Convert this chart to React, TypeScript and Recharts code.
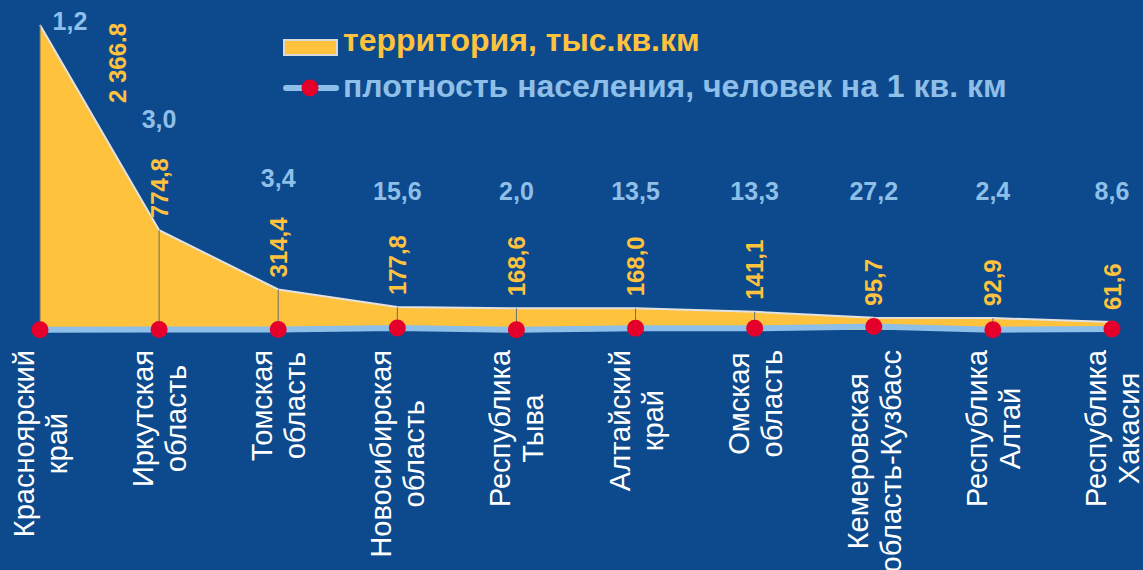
import React from 'react';
import { ComposedChart, Area, Line, XAxis, YAxis, LabelList, Legend } from 'recharts';

const regions = [
  'Красноярский\nкрай',
  'Иркутская\nобласть',
  'Томская\nобласть',
  'Новосибирская\nобласть',
  'Республика\nТыва',
  'Алтайский\nкрай',
  'Омская\nобласть',
  'Кемеровская\nобласть-Кузбасс',
  'Республика\nАлтай',
  'Республика\nХакасия',
];
const territory = [2366.8, 774.8, 314.4, 177.8, 168.6, 168.0, 141.1, 95.7, 92.9, 61.6];
const territoryLabels = ['2 366.8', '774,8', '314,4', '177,8', '168,6', '168,0', '141,1', '95,7', '92,9', '61,6'];
const density = [1.2, 3.0, 3.4, 15.6, 2.0, 13.5, 13.3, 27.2, 2.4, 8.6];
const densityLabels = ['1,2', '3,0', '3,4', '15,6', '2,0', '13,5', '13,3', '27,2', '2,4', '8,6'];
const seriesNames = ['территория, тыс.кв.км', 'плотность населения, человек на 1 кв. км'];

const data = regions.map((name, i) => ({ name, territory: territory[i], density: density[i] }));

const FONT = "'Liberation Sans', Arial, sans-serif";
const BG = '#0D4A8D';
const YELLOW = '#FFC23D';
const LIGHTBLUE = '#8DBFE8';
const RED = '#E4002B';
const W = 1143;
const H = 570;
const MARGIN = { top: 25, right: 31, bottom: 0, left: 40 };
const XAXIS_H = 240;

let ctx: CanvasRenderingContext2D | null = null;
function measure(text: string, font: string, fallback: number) {
  try {
    if (!ctx) ctx = document.createElement('canvas').getContext('2d');
    if (!ctx) return text.length * fallback;
    ctx.font = font;
    return ctx.measureText(text).width;
  } catch (e) {
    return text.length * fallback;
  }
}

const CategoryTick = (props: any) => {
  const { x, y, payload } = props;
  const lines: string[] = String(payload.value).split('\n');
  const font = `29px ${FONT}`;
  const maxLen = Math.max(...lines.map((l) => measure(l, font, 16)));
  const cy = y + 20 + maxLen / 2;
  const n = lines.length;
  return (
    <g transform={`translate(${x}, ${cy}) rotate(-90)`}>
      {lines.map((l, i) => (
        <text
          key={i}
          x={0}
          y={10.5 + (i - (n - 1) / 2) * 33}
          textAnchor="middle"
          fill="#FFFFFF"
          fontFamily={FONT}
          fontSize={29}
        >
          {l}
        </text>
      ))}
    </g>
  );
};

const DropDot = (props: any) => {
  const { cx, cy, index, points } = props;
  let base = H - MARGIN.bottom - XAXIS_H;
  if (points && points.length > 1) {
    const val = (p: any) => (Array.isArray(p.value) ? p.value[1] : p.value);
    const p0 = points[0];
    const p1 = points[points.length - 1];
    const dv = val(p0) - val(p1);
    if (dv) {
      const k = (p1.y - p0.y) / dv;
      base = p0.y + val(p0) * k;
    }
  }
  return <line key={`drop-${index}`} x1={cx} x2={cx} y1={cy} y2={base} stroke="#6E6E6E" strokeWidth={1} />;
};

const AreaLabels = (props: any) => {
  const { index } = props;
  const px = props.viewBox?.x ?? props.x;
  const py = props.viewBox?.y ?? props.y;
  const tText = territoryLabels[index];
  const len = measure(tText, `bold 24px ${FONT}`, 13);
  let bx: number;
  let bottom: number;
  if (index === 0) {
    bx = px + 77;
    bottom = py + 78;
  } else {
    bx = px;
    bottom = py - 12;
  }
  const top = bottom - len;
  let dx: number;
  let dy: number;
  if (index === 0) {
    dx = px + 30;
    dy = py + 5;
  } else {
    dx = bx;
    dy = Math.min(200, top - 30);
  }
  return (
    <g>
      <text
        transform={`translate(${bx}, ${bottom}) rotate(-90)`}
        x={0}
        y={8.5}
        textAnchor="start"
        fill={YELLOW}
        fontFamily={FONT}
        fontWeight="bold"
        fontSize={24}
      >
        {tText}
      </text>
      <text x={dx} y={dy} textAnchor="middle" fill={LIGHTBLUE} fontFamily={FONT} fontWeight="bold" fontSize={25}>
        {densityLabels[index]}
      </text>
    </g>
  );
};

const LegendContent = () => (
  <div style={{ fontFamily: FONT, fontWeight: 'bold', fontSize: 32, whiteSpace: 'nowrap' }}>
    <div style={{ display: 'flex', alignItems: 'flex-start', height: 46 }}>
      <svg width={60} height={46} style={{ display: 'block' }}>
        <rect x={1} y={23} width={53} height={15} fill={YELLOW} stroke="#D9D9D9" strokeWidth={2} />
      </svg>
      <span style={{ color: YELLOW, lineHeight: '46px' }}>{seriesNames[0]}</span>
    </div>
    <div style={{ display: 'flex', alignItems: 'flex-start', height: 46 }}>
      <svg width={60} height={46} style={{ display: 'block' }}>
        <line x1={3} x2={53} y1={25} y2={25} stroke={LIGHTBLUE} strokeWidth={6} strokeLinecap="round" />
        <circle cx={27} cy={25} r={8.5} fill={RED} />
      </svg>
      <span style={{ color: LIGHTBLUE, lineHeight: '46px' }}>{seriesNames[1]}</span>
    </div>
  </div>
);

export default function App() {
  return (
    <div
      style={{
        position: 'absolute',
        left: 0,
        top: 0,
        width: W,
        height: H,
        background: BG,
        overflow: 'hidden',
        fontFamily: FONT,
      }}
    >
      <ComposedChart width={W} height={H} data={data} margin={MARGIN}>
        <XAxis
          dataKey="name"
          scale="point"
          interval={0}
          tickLine={false}
          axisLine={false}
          tickSize={0}
          tickMargin={0}
          height={XAXIS_H}
          tick={<CategoryTick />}
        />
        <YAxis hide domain={[0, 'dataMax']} />
        <Legend
          layout="horizontal"
          verticalAlign="middle"
          align="center"
          content={<LegendContent />}
          wrapperStyle={{ left: 283, top: 17, width: 800 }}
        />
        <Area
          type="linear"
          dataKey="territory"
          name={seriesNames[0]}
          fill={YELLOW}
          fillOpacity={1}
          stroke="#E2E2E2"
          strokeWidth={2}
          dot={DropDot}
          activeDot={false}
          isAnimationActive={false}
        >
          <LabelList dataKey="territory" content={AreaLabels} />
        </Area>
        <Line
          type="linear"
          dataKey="density"
          name={seriesNames[1]}
          stroke={LIGHTBLUE}
          strokeWidth={6}
          dot={{ r: 8.5, fill: RED, stroke: RED, strokeWidth: 0 }}
          activeDot={false}
          isAnimationActive={false}
        />
      </ComposedChart>
    </div>
  );
}
